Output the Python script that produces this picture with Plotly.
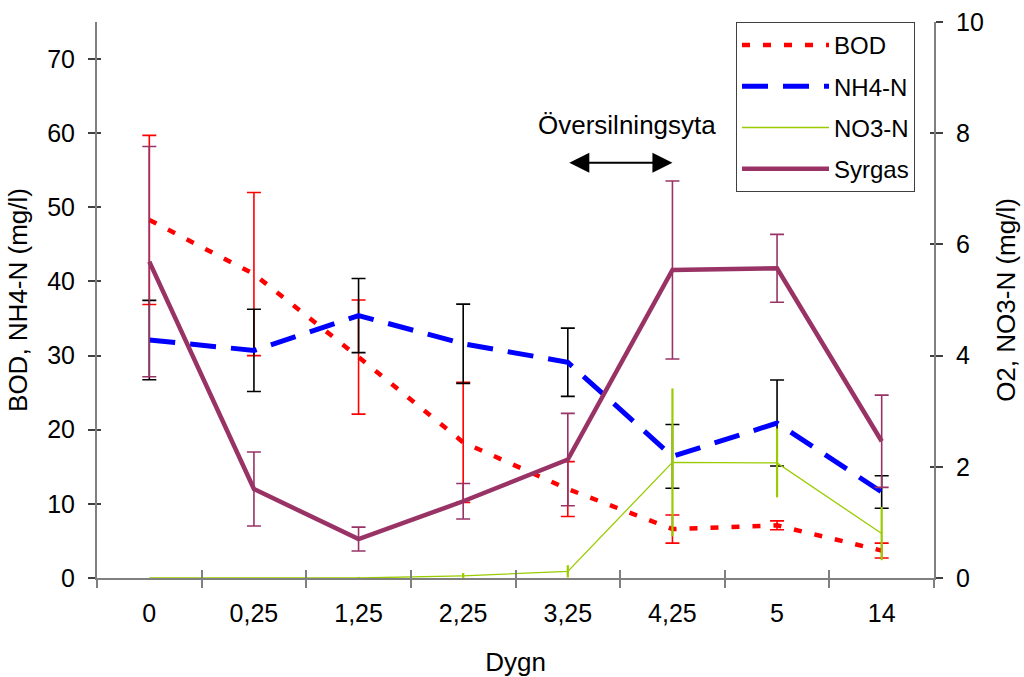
import plotly.graph_objects as go

# ---- data ----
days = ["0", "0,25", "1,25", "2,25", "3,25", "4,25", "5", "14"]

bod = [48.3, 41.0, 29.8, 18.3, 12.0, 6.6, 7.1, 3.7]
bod_err = [11.4, 11.0, 7.7, 8.1, 3.7, 1.9, 0.6, 1.0]

nh4 = [32.1, 30.7, 35.4, 31.6, 29.1, 16.4, 20.9, 11.6]
nh4_err = [5.35, 5.55, 5.0, 5.35, 4.6, 4.3, 5.8, 2.2]

no3 = [0.0, 0.0, 0.0, 0.04, 0.12, 2.08, 2.07, 0.8]
no3_err = [0.0, 0.0, 0.02, 0.05, 0.11, 1.33, 0.62, 0.48]

syrgas = [5.69, 1.60, 0.70, 1.38, 2.13, 5.54, 5.57, 2.46]
syrgas_err = [2.07, 0.665, 0.215, 0.32, 0.83, 1.6, 0.61, 0.83]

left_ticks = [0, 10, 20, 30, 40, 50, 60, 70]
right_ticks = [0, 2, 4, 6, 8, 10]

FONT = "Liberation Sans, Arial, sans-serif"
RED = "#FF0000"
BLUE = "#0000FF"
GREEN = "#99CC00"
PURPLE = "#993366"
AXIS = "#808080"

fig = go.Figure()

fig.add_trace(go.Scatter(
    x=days, y=bod, name="BOD", mode="lines", legendgroup="a",
    line=dict(color=RED, width=4.5, dash="8px,13px"),
    error_y=dict(type="data", array=bod_err, color=RED, thickness=1.6, width=7),
))
fig.add_trace(go.Scatter(
    x=days, y=nh4, name="NH4-N", mode="lines", legendgroup="b",
    line=dict(color=BLUE, width=5, dash="26px,15px"),
    error_y=dict(type="data", array=nh4_err, color="#000000", thickness=1.6, width=7),
))
fig.add_trace(go.Scatter(
    x=days, y=no3, name="NO3-N", mode="lines", legendgroup="c", yaxis="y2",
    line=dict(color=GREEN, width=1.3),
    error_y=dict(type="data", array=no3_err, color=GREEN, thickness=2.2, width=0),
))
fig.add_trace(go.Scatter(
    x=days, y=syrgas, name="Syrgas", mode="lines", legendgroup="d", yaxis="y2",
    line=dict(color=PURPLE, width=4.5),
    error_y=dict(type="data", array=syrgas_err, color=PURPLE, thickness=1.6, width=7),
))

fig.update_layout(
    width=1024, height=677,
    margin=dict(l=97, r=90, t=22, b=99, autoexpand=False),
    paper_bgcolor="white", plot_bgcolor="white",
    font=dict(family=FONT, size=24, color="black"),
    showlegend=True,
    legend=dict(
        x=(736 - 97) / 837, y=1.0, xanchor="left", yanchor="top",
        bgcolor="white", bordercolor="#404040", borderwidth=1,
        font=dict(family=FONT, size=24, color="black"),
        itemwidth=87, tracegroupgap=7,
    ),
    xaxis=dict(
        type="category", categoryorder="array", categoryarray=days,
        range=[-0.5, 7.5], showgrid=False, zeroline=False, automargin=False,
        showline=True, linecolor=AXIS, linewidth=2,
        ticks="outside", tickson="boundaries", ticklen=8, tickcolor=AXIS, tickwidth=2,
        ticklabelstandoff=12, tickfont=dict(size=25),
        title=dict(text="Dygn", standoff=30, font=dict(size=26)),
    ),
    yaxis=dict(
        range=[0, 75], tickvals=left_ticks, showgrid=False, zeroline=False, automargin=False,
        showline=True, linecolor=AXIS, linewidth=2,
        ticks="outside", ticklen=7, tickcolor="#404040", tickwidth=1.5,
        ticklabelstandoff=8, tickfont=dict(size=25),
        title=dict(text="BOD, NH4-N (mg/l)", standoff=12, font=dict(size=26)),
    ),
    yaxis2=dict(
        range=[0, 10], tickvals=right_ticks, overlaying="y", side="right",
        showgrid=False, zeroline=False, automargin=False,
        showline=True, linecolor=AXIS, linewidth=2,
        ticks="outside", ticklen=7, tickcolor="#404040", tickwidth=1.5,
        ticklabelstandoff=8, tickfont=dict(size=25),
        title=dict(text="O2, NO3-N (mg/l)", standoff=14, font=dict(size=26)),
    ),
    # inner halves of the crossing tick marks
    xaxis2=dict(
        overlaying="x", range=[-0.5, 7.5], side="bottom", anchor="y", automargin=False,
        tickvals=[i - 0.5 for i in range(len(days) + 1)],
        ticks="inside", ticklen=8, tickcolor=AXIS, tickwidth=2,
        showticklabels=False, showgrid=False, zeroline=False, showline=False,
    ),
    yaxis3=dict(
        overlaying="y", range=[0, 75], side="left", tickvals=left_ticks, automargin=False,
        ticks="inside", ticklen=4, tickcolor="#404040", tickwidth=1.5,
        showticklabels=False, showgrid=False, zeroline=False, showline=False,
    ),
    yaxis4=dict(
        overlaying="y", range=[0, 10], side="right", tickvals=right_ticks, automargin=False,
        ticks="inside", ticklen=4, tickcolor="#404040", tickwidth=1.5,
        showticklabels=False, showgrid=False, zeroline=False, showline=False,
    ),
)

# invisible helper traces to activate the overlay tick axes
fig.add_trace(go.Scatter(x=[0], y=[0], xaxis="x2", yaxis="y3", mode="markers",
                         marker=dict(opacity=0), showlegend=False, hoverinfo="skip"))
fig.add_trace(go.Scatter(x=[0], y=[0], xaxis="x2", yaxis="y4", mode="markers",
                         marker=dict(opacity=0), showlegend=False, hoverinfo="skip"))

# Översilningsyta arrow (from 3,25 to 4,25)
fig.add_annotation(
    x=5, y=56, ax=4, ay=56, xref="x", yref="y", axref="x", ayref="y",
    text="", showarrow=True, arrowhead=2, startarrowhead=2,
    arrowside="end+start", arrowsize=2, startarrowsize=2, arrowwidth=2,
    arrowcolor="black",
)
fig.add_annotation(
    x=(627 - 97) / 837, y=(578 - 125) / 556, xref="paper", yref="paper",
    text="Översilningsyta", showarrow=False, xanchor="center", yanchor="middle",
    font=dict(family=FONT, size=26, color="black"),
)

fig.write_html(
    "out.html",
    config={"displayModeBar": False},
    post_script="document.body.style.margin='0';document.body.style.overflow='hidden';",
)
